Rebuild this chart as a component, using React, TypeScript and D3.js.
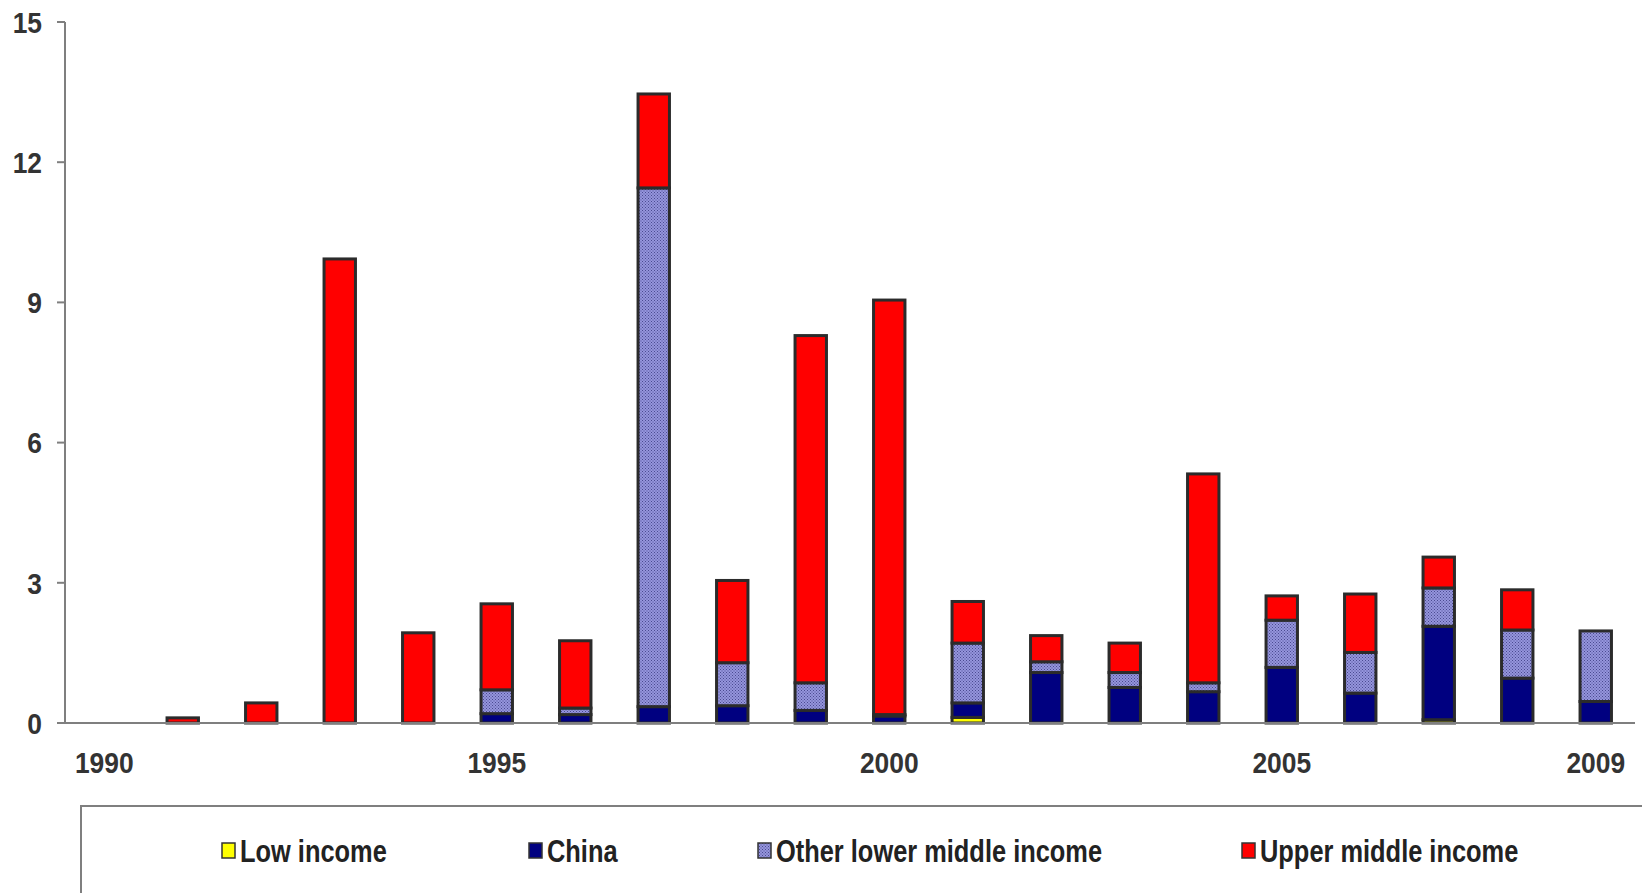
import React from 'react';
import * as d3 from 'd3';

const years = ['1990', '1991', '1992', '1993', '1994', '1995', '1996', '1997', '1998', '1999',
  '2000', '2001', '2002', '2003', '2004', '2005', '2006', '2007', '2008', '2009'];
const lowIncome = [0, 0, 0, 0, 0, 0, 0, 0, 0, 0, 0, 0.12, 0, 0, 0, 0, 0, 0.07, 0, 0];
const china = [0, 0, 0, 0, 0, 0.2, 0.18, 0.35, 0.37, 0.27, 0.15, 0.31, 1.08, 0.76, 0.67, 1.19, 0.64, 2.0, 0.96, 0.46];
const otherLower = [0, 0, 0, 0, 0, 0.51, 0.14, 11.1, 0.92, 0.59, 0.03, 1.28, 0.23, 0.32, 0.19, 1.01, 0.87, 0.82, 1.03, 1.51];
const upperMiddle = [0, 0.11, 0.43, 9.93, 1.93, 1.84, 1.44, 2.01, 1.76, 7.43, 8.87, 0.89, 0.56, 0.63, 4.47, 0.52, 1.25, 0.66, 0.86, 0];
const yTicks = [0, 3, 6, 9, 12, 15];
const xLabels = ['1990', '1995', '2000', '2005', '2009'];
const seriesNames = ['Low income', 'China', 'Other lower middle income', 'Upper middle income'];

const W = 1642;
const H = 893;
const left = 65;
const right = 1635;
const top = 22;
const bottom = 723;
const font = '"Liberation Sans", Arial, sans-serif';
const fills = ['#ffff00', '#000080', 'url(#dots)', '#ff0000'];

export default function App() {
  const x = d3.scaleBand().domain(years).range([left, right]).paddingInner(0.6).paddingOuter(0.3);
  const y = d3.scaleLinear().domain([0, 15]).range([bottom, top]);

  const rows = years.map((yr, i) => ({
    year: yr,
    s0: lowIncome[i],
    s1: china[i],
    s2: otherLower[i],
    s3: upperMiddle[i],
  }));
  const stacked = d3.stack<any>().keys(['s0', 's1', 's2', 's3'])(rows);

  const legendX = [222, 529, 758, 1242];

  return (
    <svg width={W} height={H} style={{position: 'absolute', left: 0, top: 0, background: '#fff'}}>
      <defs>
        <pattern id="dots" width="3" height="3" patternUnits="userSpaceOnUse">
          <rect width="3" height="3" fill="#9595dc" />
          <rect x="0" y="0" width="1" height="1" fill="#4a4a90" />
          <rect x="1.5" y="1.5" width="1" height="1" fill="#4a4a90" />
        </pattern>
      </defs>

      {/* bars */}
      {stacked.map((layer, si) => (
        <g key={si}>
          {layer.map((d: any, i) => {
            if (d[1] - d[0] <= 0) return null;
            return (
              <rect
                key={i}
                x={x(years[i])}
                y={y(d[1])}
                width={x.bandwidth()}
                height={y(d[0]) - y(d[1])}
                fill={fills[si]}
                stroke="#2b2b2b"
                strokeWidth={3}
              />
            );
          })}
        </g>
      ))}

      {/* axes */}
      <line x1={left} x2={left} y1={top} y2={bottom} stroke="#7f7f7f" strokeWidth={2} />
      <line x1={57} x2={right} y1={bottom} y2={bottom} stroke="#7f7f7f" strokeWidth={2} />
      {yTicks.map(t => (
        <g key={t}>
          <line x1={57} x2={left} y1={y(t)} y2={y(t)} stroke="#7f7f7f" strokeWidth={2} />
          <text transform={`translate(42,${y(t)}) scale(0.88,1)`} dy="0.36em" textAnchor="end"
                fontFamily={font} fontWeight="bold" fontSize={30} fill="#333">{t}</text>
        </g>
      ))}
      {xLabels.map(l => (
        <text key={l} transform={`translate(${(x(l) as number) + x.bandwidth() / 2},773) scale(0.88,1)`}
              textAnchor="middle" fontFamily={font} fontWeight="bold" fontSize={30} fill="#333">{l}</text>
      ))}

      {/* legend */}
      <rect x={81} y={806} width={1600} height={120} fill="none" stroke="#7f7f7f" strokeWidth={2} />
      {seriesNames.map((n, i) => (
        <g key={n}>
          <rect x={legendX[i]} y={843} width={13} height={15} fill={fills[i]} stroke="#333" strokeWidth={1.5} />
          <text transform={`translate(${legendX[i] + 18},862) scale(0.82,1)`}
                fontFamily={font} fontWeight="bold" fontSize={31} fill="#222">{n}</text>
        </g>
      ))}
    </svg>
  );
}
